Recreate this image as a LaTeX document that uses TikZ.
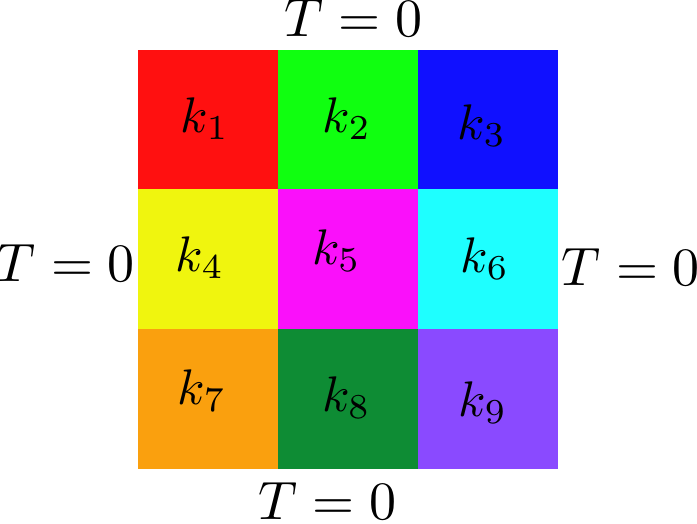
\documentclass[tikz,border=0pt]{standalone}
\definecolor{cred}{RGB}{255,16,16}
\definecolor{cgreen}{RGB}{16,255,16}
\definecolor{cblue}{RGB}{16,16,255}
\definecolor{cyellow}{RGB}{240,245,14}
\definecolor{cmagenta}{RGB}{250,16,250}
\definecolor{ccyan}{RGB}{30,255,255}
\definecolor{corange}{RGB}{250,160,14}
\definecolor{cdgreen}{RGB}{14,140,52}
\definecolor{cpurple}{RGB}{138,74,255}
\begin{document}
\begin{tikzpicture}[x=1pt,y=-1pt,
  klabel/.style={anchor=base,inner sep=0pt,scale=5},
  tlabel/.style={anchor=base,inner sep=0pt,scale=5.4}]
\useasboundingbox (0,0) rectangle (697,523);
% cells
\fill[cred]     (137.5,49.5) rectangle (277.5,189);
\fill[cgreen]   (277.5,49.5) rectangle (417.5,189);
\fill[cblue]    (417.5,49.5) rectangle (557.5,189);
\fill[cyellow]  (137.5,189) rectangle (277.5,329);
\fill[cmagenta] (277.5,189) rectangle (417.5,329);
\fill[ccyan]    (417.5,189) rectangle (557.5,329);
\fill[corange]  (137.5,329) rectangle (277.5,469);
\fill[cdgreen]  (277.5,329) rectangle (417.5,469);
\fill[cpurple]  (417.5,329) rectangle (557.5,469);
% cell labels
\node[klabel] (k1) at (205,132) {$k_1$};
\node[klabel] (k2) at (347,132) {$k_2$};
\node[klabel] (k3) at (482,139) {$k_3$};
\node[klabel] (k4) at (200,271) {$k_4$};
\node[klabel] (k5) at (336.5,264) {$k_5$};
\node[klabel] (k6) at (485,272) {$k_6$};
\node[klabel] (k7) at (202,404) {$k_7$};
\node[klabel] (k8) at (346.5,411) {$k_8$};
\node[klabel] (k9) at (483,416) {$k_9$};
% boundary labels
\node[tlabel] (ttop) at (353.5,36) {$T=0$};
\node[tlabel] (tbot) at (327.5,519) {$T=0$};
\node[tlabel] (tleft) at (66,281) {$T=0$};
\node[tlabel] (tright) at (631,285) {$T=0$};
\end{tikzpicture}
\end{document}
